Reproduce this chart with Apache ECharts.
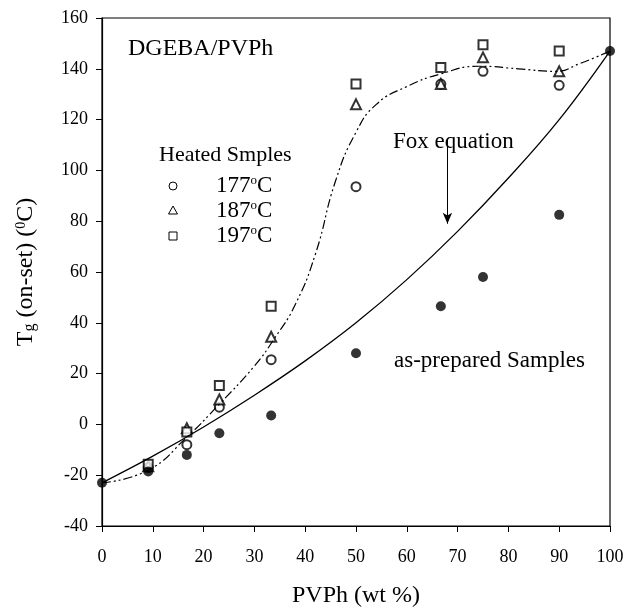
<!DOCTYPE html>
<html>
<head>
<meta charset="utf-8">
<script src="https://cdn.jsdelivr.net/npm/echarts@6/dist/echarts.min.js"></script>
<style>
  html, body { margin: 0; padding: 0; background: #fff; }
  #main { width: 627px; height: 613px; }
</style>
</head>
<body>
<div id="main"></div>
<script>
// PVPh content (wt %) of the blends
var pvph = [0, 9.1, 16.7, 23.1, 33.3, 50, 66.7, 75, 90, 100];
var asPrepared = [-23, -18.5, -12, -3.5, 3.5, 28, 46.5, 58, 82.5, 147];

// heated samples (pure components are the filled dots)
var heatedX = [9.1, 16.7, 23.1, 33.3, 50, 66.7, 75, 90];
var heated177 = [-17, -8, 6.8, 25.5, 93.6, 134, 139, 133.5];
var heated187 = [-16.5, -1.5, 9.8, 34.5, 126, 134, 144.5, 139];
var heated197 = [-15.7, -3, 15.3, 46.5, 134, 140.5, 149.5, 147];

// Fox equation curve
var foxX = [0, 10, 20, 30, 40, 50, 60, 70, 80, 90, 100];
var foxY = [-23, -12.5, -1, 11.5, 25, 40, 57, 76, 97, 120, 147];

// dash-dot-dot guide through the heated samples
var fitX = [0, 9.1, 16.7, 23.1, 30, 34, 38, 42, 46, 50, 54, 60, 66.7, 74.3, 82, 89.3, 94, 100];
var fitY = [-23, -18, -5, 8, 23, 34, 47, 67, 96, 115, 126, 133, 138, 141, 140, 139, 142, 147];

function pairs(xs, ys) {
  return xs.map(function (x, i) { return [x, ys[i]]; });
}

var serif = 'Liberation Serif';
var chart = echarts.init(document.getElementById('main'));

function legendText(t) {
  return {
    text: '{n|' + t + '}{s|o}{n|C}',
    rich: {
      n: { fontFamily: serif, fontSize: 23, fill: '#000', verticalAlign: 'bottom' },
      s: { fontFamily: serif, fontSize: 13, fill: '#000', verticalAlign: 'top' }
    }
  };
}

var option = {
  backgroundColor: '#fff',
  animation: false,
  grid: {
    left: 102, right: 17, top: 18, bottom: 85,
    show: true, borderColor: '#000', borderWidth: 1.2
  },
  xAxis: {
    type: 'value', min: 0, max: 100, interval: 10,
    name: 'PVPh (wt %)', nameLocation: 'middle', nameGap: 58,
    nameTextStyle: { fontFamily: serif, fontSize: 24, color: '#000' },
    axisLine: { onZero: false, lineStyle: { color: '#000', width: 1.2 } },
    axisTick: { length: 6, lineStyle: { color: '#000' } },
    axisLabel: { fontFamily: serif, fontSize: 18, color: '#000', margin: 22 },
    splitLine: { show: false }
  },
  yAxis: {
    type: 'value', min: -40, max: 160, interval: 20,
    name: '{n|T}{sub|g}{n| (on-set) (}{sup|0}{n|C)}',
    nameLocation: 'middle', nameGap: 64, nameRotate: 90,
    nameTextStyle: {
      fontFamily: serif, fontSize: 24, color: '#000',
      rich: {
        n: { fontFamily: serif, fontSize: 24, color: '#000' },
        sub: { fontFamily: serif, fontSize: 16, color: '#000', verticalAlign: 'bottom' },
        sup: { fontFamily: serif, fontSize: 14, color: '#000', verticalAlign: 'top' }
      }
    },
    axisLine: { onZero: false, lineStyle: { color: '#000', width: 1.2 } },
    axisTick: { length: 6, lineStyle: { color: '#000' } },
    axisLabel: { fontFamily: serif, fontSize: 18, color: '#000', margin: 14 },
    splitLine: { show: false }
  },
  series: [
    {
      name: 'Fox equation', type: 'line', smooth: 0.4, showSymbol: false,
      data: pairs(foxX, foxY),
      lineStyle: { color: '#000', width: 1.3 },
      markLine: {
        silent: true, symbol: ['none', 'arrow'], symbolSize: [7, 11],
        label: { show: false },
        lineStyle: { color: '#000', width: 1, type: 'solid' },
        data: [[{ coord: [68, 112] }, { coord: [68, 79] }]]
      }
    },
    {
      name: 'heated fit', type: 'line', smooth: 0.5, showSymbol: false,
      data: pairs(fitX, fitY),
      lineStyle: { color: '#000', width: 1.2, type: [9, 3, 2, 3, 2, 3] }
    },
    {
      name: '177', type: 'scatter', symbol: 'emptyCircle', symbolSize: 9,
      data: pairs(heatedX, heated177),
      itemStyle: { color: '#000', borderColor: '#000', borderWidth: 1 }
    },
    {
      name: '187', type: 'scatter', symbol: 'emptyTriangle', symbolSize: 10,
      data: pairs(heatedX, heated187),
      itemStyle: { color: '#000', borderColor: '#000', borderWidth: 1 }
    },
    {
      name: '197', type: 'scatter', symbol: 'emptyRect', symbolSize: 9,
      data: pairs(heatedX, heated197),
      itemStyle: { color: '#000', borderColor: '#000', borderWidth: 1 }
    },
    {
      name: 'as-prepared', type: 'scatter', symbol: 'circle', symbolSize: 10,
      data: pairs(pvph, asPrepared),
      itemStyle: { color: '#000' }, z: 5
    }
  ],
  graphic: [
    { type: 'text', left: 128, top: 37, style: { text: 'DGEBA/PVPh', font: '24px "Liberation Serif"', fill: '#000' } },
    { type: 'text', left: 159, top: 144, style: { text: 'Heated Smples', font: '22px "Liberation Serif"', fill: '#000' } },
    { type: 'circle', shape: { cx: 173, cy: 186, r: 4 }, style: { fill: 'none', stroke: '#000', lineWidth: 1 } },
    { type: 'polygon', shape: { points: [[173, 206], [168.5, 214], [177.5, 214]] }, style: { fill: 'none', stroke: '#000', lineWidth: 1 } },
    { type: 'rect', shape: { x: 169, y: 232, width: 8, height: 8 }, style: { fill: 'none', stroke: '#000', lineWidth: 1 } },
    { type: 'text', left: 216, top: 174, style: legendText('177') },
    { type: 'text', left: 216, top: 199, style: legendText('187') },
    { type: 'text', left: 216, top: 224, style: legendText('197') },
    { type: 'text', left: 393, top: 130, style: { text: 'Fox equation', font: '23px "Liberation Serif"', fill: '#000' } },
    { type: 'text', left: 394, top: 349, style: { text: 'as-prepared Samples', font: '23px "Liberation Serif"', fill: '#000' } }
  ]
};

chart.setOption(option);
</script>
</body>
</html>
